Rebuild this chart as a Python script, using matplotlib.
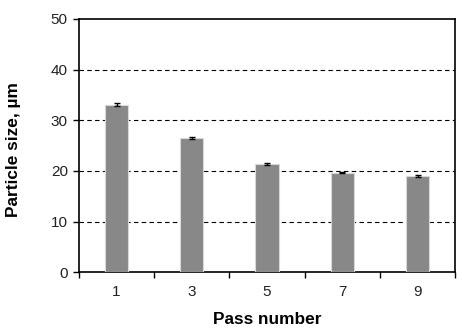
import matplotlib
matplotlib.use("Agg")
import matplotlib.pyplot as plt
from matplotlib.ticker import FixedLocator

plt.rcParams['font.family'] = ['Liberation Sans', 'DejaVu Sans']

passes = ["1", "3", "5", "7", "9"]
sizes = [33.1, 26.5, 21.4, 19.7, 19.0]
errors = [0.25, 0.12, 0.12, 0.15, 0.12]
yticks = [0, 10, 20, 30, 40, 50]

fig = plt.figure(figsize=(4.64, 3.31), dpi=100)
ax = fig.add_axes([0.170, 0.177, 0.811, 0.766])

xpos = [2 * i + 1 for i in range(len(passes))]
ax.bar(xpos, sizes, width=0.62, color='#888888', edgecolor='#d8d8d8', linewidth=0.8,
       zorder=3)
ax.errorbar(xpos, sizes, yerr=errors, fmt='none', ecolor='black', elinewidth=1,
            capsize=2.5, capthick=1, zorder=4)

ax.set_xlim(0, 2 * len(passes))
ax.set_ylim(0, 50)
ax.set_yticks(yticks)
ax.set_xticks(xpos)
ax.set_xticklabels(passes)
ax.xaxis.set_minor_locator(FixedLocator([2 * i for i in range(len(passes) + 1)]))
ax.tick_params(axis='x', which='major', length=0, pad=9, labelsize=11, colors='#222222')
ax.tick_params(axis='x', which='minor', length=4, width=1, direction='out', color='black')
ax.tick_params(axis='y', which='major', length=4, width=1, direction='out', pad=4,
               labelsize=11, labelcolor='#222222')

for y in yticks[1:-1]:
    ax.axhline(y, color='black', linestyle=(0, (4, 3)), linewidth=0.8, zorder=1)

for s in ax.spines.values():
    s.set_linewidth(1.2)
    s.set_color('black')

ax.set_xlabel('Pass number', fontsize=12.4, fontweight='bold')
ax.set_ylabel('Particle size, µm', fontsize=12.4, fontweight='bold')
ax.xaxis.set_label_coords(0.5, -0.155)
ax.yaxis.set_label_coords(-0.155, 0.485)

fig.savefig('out.png', dpi=100)
